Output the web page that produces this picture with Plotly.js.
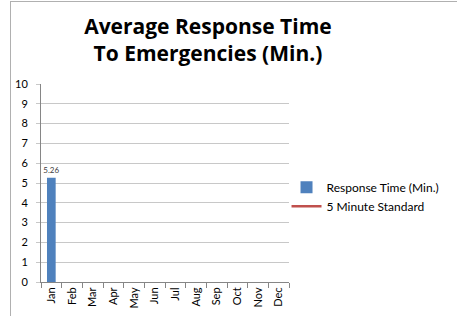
<!DOCTYPE html>
<html>
<head>
<meta charset="utf-8">
<script src="https://cdn.plot.ly/plotly-3.0.1.min.js"></script>
<style>
html,body{margin:0;padding:0;background:#fff;}
#wrap{position:relative;width:457px;height:316px;overflow:hidden;}
#chart{position:absolute;left:0;top:0;width:457px;height:316px;}
#frame{position:absolute;left:10px;top:1px;width:460px;height:330px;border-left:1px solid #b0b0b0;border-top:1px solid #b0b0b0;pointer-events:none;}
</style>
</head>
<body>
<div id="wrap"><div id="chart"></div><div id="frame"></div></div>
<script>
const months = ["Jan","Feb","Mar","Apr","May","Jun","Jul","Aug","Sep","Oct","Nov","Dec"];
const responseTime = [5.26, null, null, null, null, null, null, null, null, null, null, null];
const standard = [null, null, null, null, null, null, null, null, null, null, null, null];
const responseLabels = ["5.26", "", "", "", "", "", "", "", "", "", "", ""];
const yTicks = [0,1,2,3,4,5,6,7,8,9,10];

const fontFam = "Lato, 'Open Sans', sans-serif";
const titleFam = "'Open Sans', Lato, sans-serif";

const traces = [
  {
    type: "bar",
    name: "Response Time (Min.)",
    x: months,
    y: responseTime,
    text: responseLabels,
    textposition: "outside",
    constraintext: "none",
    textfont: {family: fontFam, size: 8, color: "#404040"},
    cliponaxis: false,
    marker: {color: "#4F81BD"},
    width: 0.42
  },
  {
    type: "scatter",
    mode: "lines",
    name: "5 Minute Standard",
    x: months,
    y: standard,
    line: {color: "#C0504D", width: 2.5}
  }
];

const layout = {
  width: 457,
  height: 316,
  margin: {l: 41, r: 161, t: 84, b: 34},
  paper_bgcolor: "#fff",
  plot_bgcolor: "#fff",
  font: {family: fontFam, size: 11, color: "#000"},
  title: {
    text: "<b>Average Response Time<br>To Emergencies (Min.)</b>",
    font: {family: titleFam, size: 21, color: "#000"},
    x: 0.455, xanchor: "center",
    y: 0.893, yanchor: "top"
  },
  bargap: 0.58,
  showlegend: true,
  legend: {
    x: 0.99, xanchor: "left",
    y: 0.43, yanchor: "middle",
    font: {family: fontFam, size: 12, color: "#000"},
    itemwidth: 30,
    tracegroupgap: 0,
    bgcolor: "rgba(0,0,0,0)"
  },
  xaxis: {
    type: "category",
    categoryarray: months,
    tickangle: -90,
    ticks: "outside",
    tickson: "boundaries",
    ticklen: 5,
    tickcolor: "#868686",
    showline: true,
    linecolor: "#868686",
    linewidth: 1,
    showgrid: false,
    zeroline: false,
    tickfont: {family: fontFam, size: 11, color: "#000"},
    fixedrange: true
  },
  yaxis: {
    range: [0, 10],
    tickvals: yTicks,
    ticks: "outside",
    ticklen: 4,
    tickcolor: "#c8c8c8",
    showline: true,
    linecolor: "#868686",
    linewidth: 1,
    showgrid: true,
    gridcolor: "#c8c8c8",
    gridwidth: 1,
    zeroline: false,
    ticklabelstandoff: 6,
    tickfont: {family: fontFam, size: 11, color: "#000"},
    fixedrange: true
  }
};

Plotly.newPlot("chart", traces, layout, {displayModeBar: false, staticPlot: true});
</script>
</body>
</html>
